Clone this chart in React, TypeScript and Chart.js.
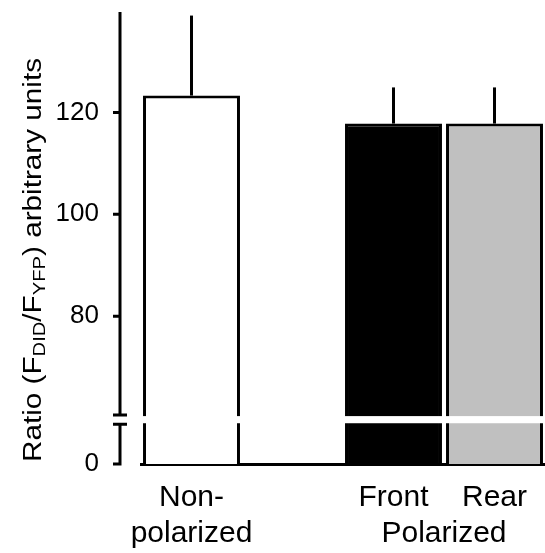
import React, { useEffect, useRef } from 'react';
import { Chart, registerables } from 'chart.js';

Chart.register(...registerables);

// ---- data ----
const categories: (string | string[])[] = [['Non-', 'polarized'], '', 'Front', 'Rear'];
const groupLabel = 'Polarized';
const meanValues: (number | null)[] = [123.3, null, 117.8, 117.8];
const errorValues: (number | null)[] = [15.7, null, 7.1, 7.1];
const tickValues = [0, 80, 100, 120];
const barColors = ['#ffffff', '#ffffff', '#000000', '#c0c0c0'];

// ---- broken axis mapping ----
const BREAK_LOW = 60;
const AXIS_ZERO = 51;
const AXIS_MAX = 139.7;
const toAxis = (v: number) => (v >= BREAK_LOW ? v : AXIS_ZERO + (v / BREAK_LOW) * 7.8);
const GAP_TOP = 60.6;
const GAP_BOTTOM = 58.8;

const FONT = '"Liberation Sans", Arial, Helvetica, sans-serif';

const tickLabelMap: Record<string, string> = {};
tickValues.forEach((v) => {
  tickLabelMap[String(toAxis(v))] = String(v);
});

const extrasPlugin = {
  id: 'extras',
  afterDraw(chart: any) {
    const { ctx, chartArea } = chart;
    const y = chart.scales.y;
    const x = chart.scales.x;
    ctx.save();

    // break band across bars
    ctx.fillStyle = '#ffffff';
    const b1 = y.getPixelForValue(60.4);
    const b2 = y.getPixelForValue(59.0);
    ctx.fillRect(chartArea.left, b1, chartArea.right - chartArea.left, b2 - b1);

    // error bars
    ctx.strokeStyle = '#000';
    ctx.lineWidth = 3;
    ctx.lineCap = 'butt';
    meanValues.forEach((m, i) => {
      const e = errorValues[i];
      if (m == null || e == null) return;
      const px = x.getPixelForValue(i);
      ctx.beginPath();
      ctx.moveTo(px, y.getPixelForValue(m));
      ctx.lineTo(px, y.getPixelForValue(m + e));
      ctx.stroke();
    });

    // broken y axis
    const ax = chartArea.left - 21;
    ctx.beginPath();
    ctx.moveTo(ax, y.getPixelForValue(AXIS_MAX));
    ctx.lineTo(ax, y.getPixelForValue(GAP_TOP));
    ctx.moveTo(ax - 7, y.getPixelForValue(GAP_TOP));
    ctx.lineTo(ax + 7, y.getPixelForValue(GAP_TOP));
    ctx.moveTo(ax - 7, y.getPixelForValue(GAP_BOTTOM));
    ctx.lineTo(ax + 7, y.getPixelForValue(GAP_BOTTOM));
    ctx.moveTo(ax, y.getPixelForValue(GAP_BOTTOM));
    ctx.lineTo(ax, y.getPixelForValue(AXIS_ZERO) + 1.5);
    tickValues.forEach((v) => {
      const py = y.getPixelForValue(toAxis(v));
      ctx.moveTo(ax - 7, py);
      ctx.lineTo(ax + 1.5, py);
    });
    ctx.stroke();

    // group label
    ctx.fillStyle = '#000';
    ctx.font = `30px ${FONT}`;
    ctx.textAlign = 'center';
    ctx.textBaseline = 'middle';
    const gx = (x.getPixelForValue(2) + x.getPixelForValue(3)) / 2;
    ctx.fillText(groupLabel, gx, 534);

    // y title with subscripts
    const parts: [string, boolean][] = [
      ['Ratio (F', false],
      ['DID', true],
      ['/F', false],
      ['YFP', true],
      [') arbitrary units', false],
    ];
    const mainSize = 25;
    const subSize = 17;
    let total = 0;
    const widths = parts.map(([t, sub]) => {
      ctx.font = `${sub ? subSize : mainSize}px ${FONT}`;
      const w = ctx.measureText(t).width;
      total += w;
      return w;
    });
    const targetLen = 404;
    const stretch = targetLen / total;
    ctx.translate(34, 260);
    ctx.rotate(-Math.PI / 2);
    ctx.scale(stretch, 1);
    ctx.textAlign = 'left';
    ctx.textBaseline = 'middle';
    let cx = -total / 2;
    parts.forEach(([t, sub], i) => {
      ctx.font = `${sub ? subSize : mainSize}px ${FONT}`;
      ctx.fillText(t, cx, sub ? 6 : 0);
      cx += widths[i];
    });

    ctx.restore();
  },
};

export default function App() {
  const ref = useRef<HTMLCanvasElement>(null);
  useEffect(() => {
    if (!ref.current) return;
    const chart = new Chart(ref.current, {
      type: 'bar',
      data: {
        labels: categories as any,
        datasets: [
          {
            data: meanValues as any,
            backgroundColor: barColors,
            borderColor: '#000000',
            borderWidth: 3,
            barPercentage: 0.96,
            categoryPercentage: 1,
          },
        ],
      },
      options: {
        animation: false,
        responsive: true,
        maintainAspectRatio: false,
        layout: { padding: { top: 12, left: 0, right: 0, bottom: 0 } },
        plugins: {
          legend: { display: false },
          tooltip: { enabled: false },
          title: { display: false },
        },
        scales: {
          x: {
            grid: { display: true, drawOnChartArea: false, drawTicks: false },
            border: { display: true, color: '#000', width: 3 },
            ticks: {
              color: '#000',
              font: { size: 30, family: FONT, lineHeight: 1.2 },
              padding: 16,
              maxRotation: 0,
              autoSkip: false,
            },
            afterFit: (s: any) => {
              s.height = 89;
              s.paddingLeft = 0;
              s.paddingRight = 0;
            },
          },
          y: {
            min: AXIS_ZERO,
            max: AXIS_MAX,
            grid: { display: false, drawTicks: false },
            border: { display: false },
            afterBuildTicks: (s: any) => {
              s.ticks = tickValues.map((v) => ({ value: toAxis(v) }));
            },
            ticks: {
              color: '#000',
              font: { size: 26, family: FONT },
              padding: 42,
              autoSkip: false,
              callback: (val: any) => tickLabelMap[String(val)] ?? '',
            },
            afterFit: (s: any) => {
              s.width = 141;
              s.paddingTop = 0;
              s.paddingBottom = 0;
            },
          },
        },
      },
      plugins: [extrasPlugin],
    });
    return () => chart.destroy();
  }, []);
  return (
    <div style={{ position: 'absolute', left: 0, top: 0, width: 545, height: 553, background: '#fff' }}>
      <canvas ref={ref} />
    </div>
  );
}
